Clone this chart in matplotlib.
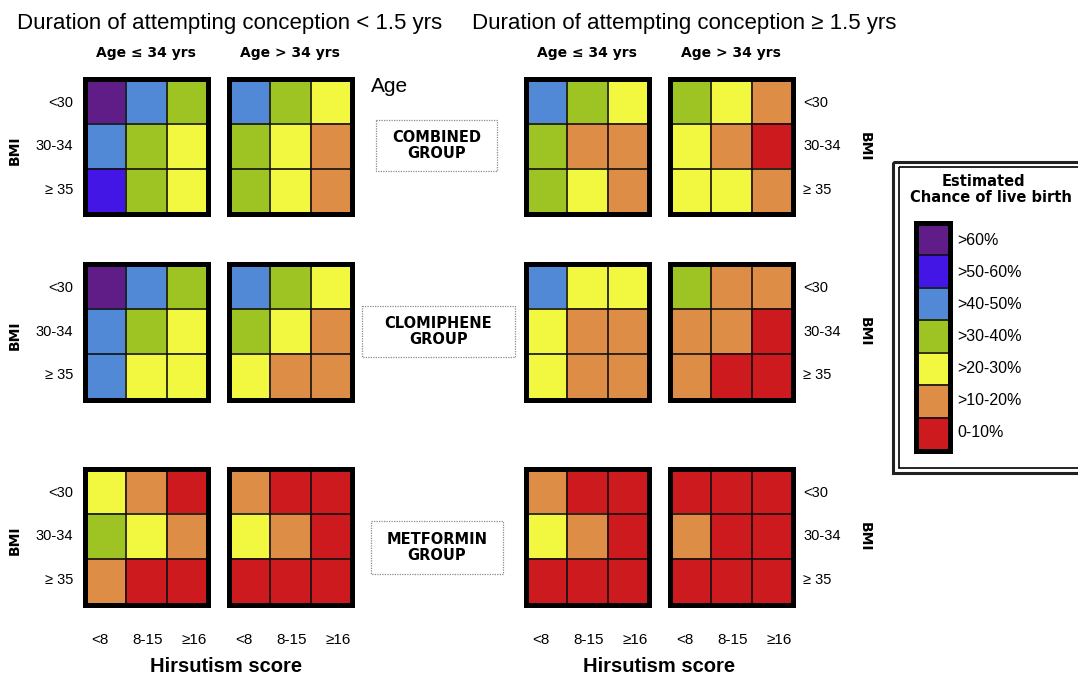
import numpy as np
import matplotlib
matplotlib.use('Agg')
import matplotlib.pyplot as plt
from matplotlib.colors import ListedColormap, BoundaryNorm
from matplotlib.patches import Rectangle

# chance-of-live-birth classes, index 0 = lowest
classes = ['0-10%', '>10-20%', '>20-30%', '>30-40%', '>40-50%', '>50-60%', '>60%']
class_colors = ['#cc1a1e', '#de8d47', '#f2f840', '#9dc423', '#5189d7', '#4416e6', '#601d88']

bmi_labels = ['<30', '30-34', '\u2265 35']
hirsutism_labels = ['<8', '8-15', '\u226516']
age_labels = ['Age \u2264 34 yrs', 'Age > 34 yrs']
duration_titles = ['Duration of attempting conception < 1.5 yrs',
                   'Duration of attempting conception \u2265 1.5 yrs']
group_names = ['COMBINED\nGROUP', 'CLOMIPHENE\nGROUP', 'METFORMIN\nGROUP']

# rows = BMI (<30, 30-34, >=35), cols = hirsutism (<8, 8-15, >=16)
combined_short_young = [[6, 4, 3], [4, 3, 2], [5, 3, 2]]
combined_short_old = [[4, 3, 2], [3, 2, 1], [3, 2, 1]]
combined_long_young = [[4, 3, 2], [3, 1, 1], [3, 2, 1]]
combined_long_old = [[3, 2, 1], [2, 1, 0], [2, 2, 1]]

clomiphene_short_young = [[6, 4, 3], [4, 3, 2], [4, 2, 2]]
clomiphene_short_old = [[4, 3, 2], [3, 2, 1], [2, 1, 1]]
clomiphene_long_young = [[4, 2, 2], [2, 1, 1], [2, 1, 1]]
clomiphene_long_old = [[3, 1, 1], [1, 1, 0], [1, 0, 0]]

metformin_short_young = [[2, 1, 0], [3, 2, 1], [1, 0, 0]]
metformin_short_old = [[1, 0, 0], [2, 1, 0], [0, 0, 0]]
metformin_long_young = [[1, 0, 0], [2, 1, 0], [0, 0, 0]]
metformin_long_old = [[0, 0, 0], [1, 0, 0], [0, 0, 0]]

grids = [
    [combined_short_young, combined_short_old, combined_long_young, combined_long_old],
    [clomiphene_short_young, clomiphene_short_old, clomiphene_long_young, clomiphene_long_old],
    [metformin_short_young, metformin_short_old, metformin_long_young, metformin_long_old],
]

cmap = ListedColormap(class_colors)
norm = BoundaryNorm(np.arange(-0.5, len(classes)), cmap.N)

W, H = 1078, 675
fig = plt.figure(figsize=(W / 100, H / 100), dpi=100)
fig.patch.set_facecolor('white')

# overlay in pixel coordinates for annotations
ov = fig.add_axes([0, 0, 1, 1])
ov.set_xlim(0, W)
ov.set_ylim(H, 0)
ov.axis('off')

SANS = 'Liberation Sans'
BOLD = 'DejaVu Sans'

# grid outer borders (px): columns and rows
col_x = [(82, 210), (226, 354), (523, 651), (667, 795)]
row_y = [(76, 217), (261, 402), (466, 607)]
border = 5


def add_px_axes(x0, y0, x1, y1):
    return fig.add_axes([x0 / W, 1 - y1 / H, (x1 - x0) / W, (y1 - y0) / H])


def draw_grid(ax, values):
    vals = np.array(values)
    nr, nc = vals.shape
    ax.pcolormesh(vals, cmap=cmap, norm=norm, edgecolors='face', antialiased=False)
    for k in range(1, nr):
        ax.axhline(k, color='#111111', linewidth=1.2)
    for k in range(1, nc):
        ax.axvline(k, color='#111111', linewidth=1.2)
    ax.set_xlim(0, nc)
    ax.set_ylim(nr, 0)
    ax.set_xticks([])
    ax.set_yticks([])
    for sp in ax.spines.values():
        sp.set_linewidth(border * 0.72)
        sp.set_color('black')


h = border / 2
for r, (y0, y1) in enumerate(row_y):
    for c, (x0, x1) in enumerate(col_x):
        ax = add_px_axes(x0 + h, y0 + h, x1 - h, y1 - h)
        draw_grid(ax, grids[r][c])

    # BMI row labels
    cell_h = (y1 - y0 - 2 * border) / 3
    for i, lab in enumerate(bmi_labels):
        yc = y0 + border + cell_h * (i + 0.5)
        ov.text(73, yc, lab, ha='right', va='center', fontsize=10.5, family=SANS)
        ov.text(803, yc, lab, ha='left', va='center', fontsize=10.5, family=SANS)
    ym = (y0 + y1) / 2
    ov.text(15, ym + 4, 'BMI', rotation=90, ha='center', va='center',
            fontsize=10, fontweight='bold', family=BOLD)
    ov.text(865, ym, 'BMI', rotation=270, ha='center', va='center',
            fontsize=10, fontweight='bold', family=BOLD)

# group boxes
group_boxes = [(376, 120, 497, 171), (362, 306, 515, 357), (371, 521, 503, 574)]
for name, (bx0, by0, bx1, by1) in zip(group_names, group_boxes):
    ov.add_patch(Rectangle((bx0, by0), bx1 - bx0, by1 - by0, fill=False,
                           edgecolor='#8a8a8a', linewidth=0.9, linestyle=(0, (1, 1))))
    ov.text((bx0 + bx1) / 2, (by0 + by1) / 2, name, ha='center', va='center',
            fontsize=10.5, fontweight='bold', family=BOLD, linespacing=1.15)

ov.text(371, 87, 'Age', ha='left', va='center', fontsize=15, family=SANS)

# titles
ov.text(17, 23, duration_titles[0], ha='left', va='center', fontsize=16, family=SANS)
ov.text(472, 23, duration_titles[1], ha='left', va='center', fontsize=16, family=SANS)
for c, (x0, x1) in enumerate(col_x):
    ov.text((x0 + x1) / 2, 53, age_labels[c % 2], ha='center', va='center',
            fontsize=10, fontweight='bold', family=BOLD)

# hirsutism tick labels
for x0, x1 in col_x:
    for frac, lab in zip([0.14, 0.51, 0.88], hirsutism_labels):
        ov.text(x0 + (x1 - x0) * frac, 640, lab, ha='center', va='center',
                fontsize=11, family=SANS)
ov.text(226, 666, 'Hirsutism score', ha='center', va='center', fontsize=14.5,
        fontweight='bold', family=SANS)
ov.text(659, 666, 'Hirsutism score', ha='center', va='center', fontsize=14.5,
        fontweight='bold', family=SANS)

# legend frame (double border)
ov.add_patch(Rectangle((893, 162), 200, 311, fill=False, edgecolor='#222222',
                       linewidth=2.2, clip_on=False))
ov.add_patch(Rectangle((899, 167), 200, 301, fill=False, edgecolor='black',
                       linewidth=1.2, clip_on=False))
ov.text(983, 181, 'Estimated', ha='center', va='center', fontsize=10.5,
        fontweight='bold', family=BOLD)
ov.text(991, 198, 'Chance of live birth', ha='center', va='center', fontsize=10.5,
        fontweight='bold', family=BOLD)

leg = add_px_axes(913 + h, 220 + h, 952 - h, 453 - h)
leg_vals = np.arange(len(classes))[::-1].reshape(-1, 1)
draw_grid(leg, leg_vals)
cell = (453 - 220 - 2 * border) / len(classes)
for i, k in enumerate(leg_vals[:, 0]):
    ov.text(957, 220 + border + cell * (i + 0.5), classes[k], ha='left', va='center',
            fontsize=11.5, family=SANS)

fig.savefig('out.png', dpi=100, facecolor='white')
